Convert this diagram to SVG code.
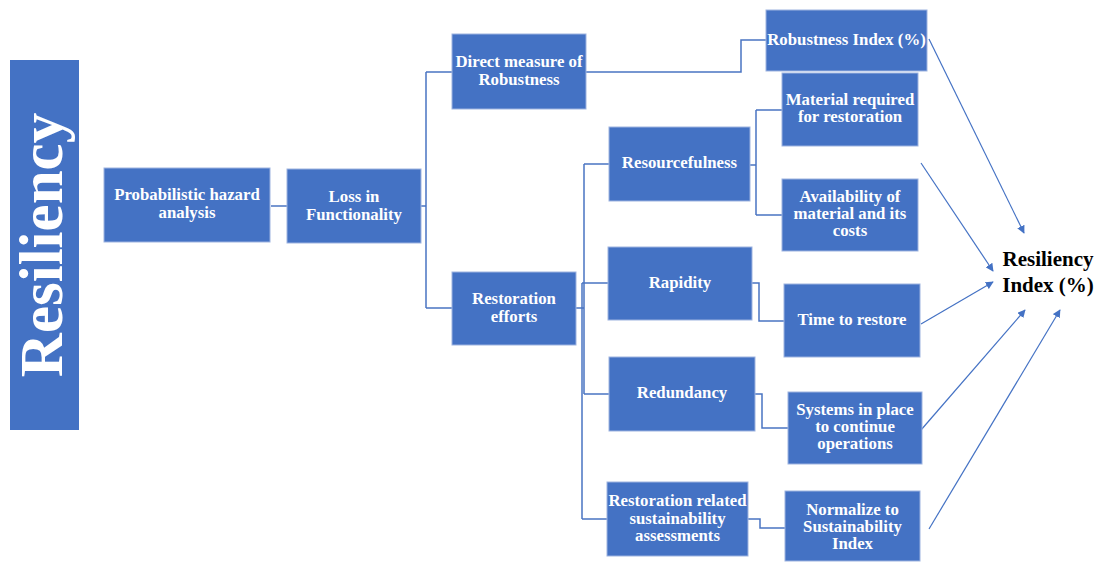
<svg xmlns="http://www.w3.org/2000/svg" width="1102" height="562" viewBox="0 0 1102 562">
<style>
.box{fill:#4472C4;stroke:#9db3e0;stroke-width:1}
.t{font-family:"Liberation Serif","Times New Roman",serif;font-weight:bold;font-size:16.8px;fill:#fff;text-anchor:middle}
.c{fill:none;stroke:#4a74c2;stroke-width:1.5}
.a{fill:none;stroke:#4472C4;stroke-width:1.2;marker-end:url(#ah)}
</style>
<defs>
<marker id="ah" viewBox="0 0 10 10" refX="9" refY="5" markerWidth="8" markerHeight="8" markerUnits="userSpaceOnUse" orient="auto">
<path d="M0,0 L10,5 L0,10 z" fill="#4472C4"/>
</marker>
</defs>
<rect width="1102" height="562" fill="#fff"/>
<g id="connectors">
<path class="c" d="M271,206 H287"/>
<path class="c" d="M421,206 H426 M426,72 V308 M426,72 H452 M426,308 H452"/>
<path class="c" d="M586,72 H741 V40 H767"/>
<path class="c" d="M576,308 H584 M584,164 V394 M584,164 H609 M584,394 H609 M582,283 V519 M582,283 H608 M582,519 H607"/>
<path class="c" d="M750,165 H756 M756,110 V215 M756,110 H782 M756,215 H782"/>
<path class="c" d="M752,283 H759 V321 H784"/>
<path class="c" d="M755,394 H762 V428 H788"/>
<path class="c" d="M748,519 H760 V528 H785"/>
<line class="a" x1="929" y1="39" x2="1024" y2="233"/>
<line class="a" x1="921" y1="163" x2="993" y2="271"/>
<line class="a" x1="921" y1="324" x2="993" y2="282"/>
<line class="a" x1="921" y1="430" x2="1025" y2="310"/>
<line class="a" x1="929" y1="529" x2="1060" y2="310"/>
</g>
<g id="resiliency">
<rect x="10" y="60" width="69" height="370" fill="#4472C4"/>
<text transform="translate(62,245) rotate(-90)" font-family="Liberation Serif, Times New Roman, serif" font-weight="bold" font-size="61" fill="#fff" text-anchor="middle">Resiliency</text>
</g>
<g id="pha"><rect class="box" x="104" y="168" width="166" height="74"/><text class="t" x="187" y="200">Probabilistic hazard</text><text class="t" x="187" y="218">analysis</text></g>
<g id="loss"><rect class="box" x="287" y="169" width="134" height="74"/><text class="t" x="354" y="202">Loss in</text><text class="t" x="354" y="220">Functionality</text></g>
<g id="direct"><rect class="box" x="452" y="34" width="134" height="75"/><text class="t" x="519" y="67">Direct measure of</text><text class="t" x="519" y="85">Robustness</text></g>
<g id="robustness-index"><rect class="box" x="766" y="10" width="161" height="61"/><text class="t" x="846.5" y="45">Robustness Index (%)</text></g>
<g id="restoration"><rect class="box" x="452" y="272" width="124" height="73"/><text class="t" x="514" y="304">Restoration</text><text class="t" x="514" y="322">efforts</text></g>
<g id="resourcefulness"><rect class="box" x="609" y="127" width="141" height="74"/><text class="t" x="679.5" y="168">Resourcefulness</text></g>
<g id="rapidity"><rect class="box" x="608" y="247" width="144" height="73"/><text class="t" x="680" y="288">Rapidity</text></g>
<g id="redundancy"><rect class="box" x="609" y="357" width="146" height="74"/><text class="t" x="682" y="398">Redundancy</text></g>
<g id="sustainability"><rect class="box" x="607" y="482" width="141" height="74"/><text class="t" x="677.5" y="506">Restoration related</text><text class="t" x="677.5" y="524">sustainability</text><text class="t" x="677.5" y="541">assessments</text></g>
<g id="material"><rect class="box" x="782" y="73" width="136" height="73"/><text class="t" x="850" y="105">Material required</text><text class="t" x="850" y="122">for restoration</text></g>
<g id="availability"><rect class="box" x="782" y="179" width="136" height="72"/><text class="t" x="850" y="202">Availability of</text><text class="t" x="850" y="219">material and its</text><text class="t" x="850" y="236">costs</text></g>
<g id="time"><rect class="box" x="784" y="284" width="136" height="73"/><text class="t" x="852" y="325">Time to restore</text></g>
<g id="systems"><rect class="box" x="788" y="392" width="134" height="72"/><text class="t" x="855" y="415">Systems in place</text><text class="t" x="855" y="432">to continue</text><text class="t" x="855" y="449">operations</text></g>
<g id="normalize"><rect class="box" x="785" y="491" width="135" height="70"/><text class="t" x="852.5" y="515">Normalize to</text><text class="t" x="852.5" y="532">Sustainability</text><text class="t" x="852.5" y="549">Index</text></g>
<g id="resiliency-index"><text font-family="Liberation Serif, Times New Roman, serif" font-weight="bold" font-size="21" fill="#000" text-anchor="middle"><tspan x="1048" y="266">Resiliency</tspan><tspan x="1048" y="292">Index (%)</tspan></text></g>
</svg>
